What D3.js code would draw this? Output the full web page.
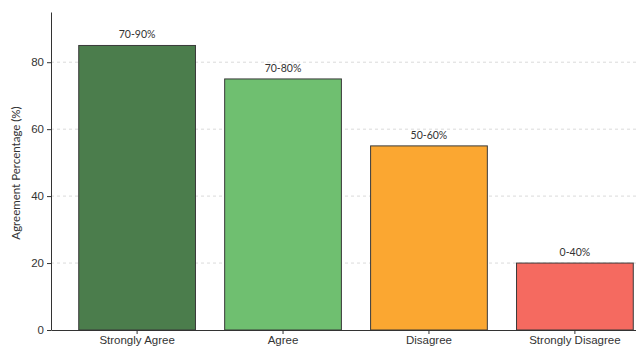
<!DOCTYPE html>
<html>
<head>
<meta charset="utf-8">
<script src="https://cdn.jsdelivr.net/npm/d3@7"></script>
<style>
  body { margin: 0; background: #fff; }
  svg { font-family: Lato, "Open Sans", sans-serif; }
  .grid line { stroke: #d0d0d0; stroke-dasharray: 3,3; stroke-width: 0.8; }
  .axis text { fill: #333; font-size: 11.5px; }
  .axis path, .axis line { stroke: #333; }
  .value { fill: #333; font-size: 10.5px; text-anchor: middle; }
</style>
</head>
<body>
<svg id="chart" width="636" height="347"></svg>
<script>
// chart data
const categories = ["Strongly Agree", "Agree", "Disagree", "Strongly Disagree"];
const values = [85, 75, 55, 20];
const rangeLabels = ["70-90%", "70-80%", "50-60%", "0-40%"];
const colors = ["#4b7d4c", "#6fbf70", "#fba731", "#f56a60"];
const yTicks = [0, 20, 40, 60, 80];

const margin = {top: 12, left: 51, bottom: 17};
const svg = d3.select("#chart");
const height = 347 - margin.top - margin.bottom;
// plot area runs past the right edge of the picture (cropped)
const plotWidth = 610;

const chart = svg.append("g")
    .attr("transform", "translate(" + margin.left + "," + margin.top + ")");

const x = d3.scaleBand().domain(categories).range([0, plotWidth])
    .paddingInner(0.2).paddingOuter(0.19);
const y = d3.scaleLinear().domain([0, 95]).range([height, 0]);

chart.append("g").attr("class", "grid")
    .selectAll("line").data(yTicks.filter(d => d > 0)).enter()
    .append("line")
        .attr("x1", 0).attr("x2", plotWidth)
        .attr("y1", d => y(d)).attr("y2", d => y(d));

chart.selectAll("rect.bar").data(categories).enter()
    .append("rect")
        .attr("class", "bar")
        .attr("x", d => x(d))
        .attr("width", x.bandwidth())
        .attr("y", (d, i) => y(values[i]))
        .attr("height", (d, i) => height - y(values[i]))
        .attr("fill", (d, i) => colors[i])
        .attr("stroke", "#3a3a3a")
        .attr("stroke-width", 1);

chart.selectAll("text.value").data(categories).enter()
    .append("text")
        .attr("class", "value")
        .attr("x", d => x(d) + x.bandwidth() / 2)
        .attr("y", (d, i) => y(values[i]) - 7)
        .text((d, i) => rangeLabels[i]);

chart.append("g").attr("class", "x axis")
    .attr("transform", "translate(0," + height + ")")
    .call(d3.axisBottom(x).tickSize(4).tickSizeOuter(0).tickPadding(2));

chart.append("g").attr("class", "y axis")
    .call(d3.axisLeft(y).tickValues(yTicks).tickSize(4).tickSizeOuter(0));

chart.append("text")
    .attr("class", "axis-title")
    .attr("transform", "translate(" + (16 - margin.left) + "," + (height / 2 + 2) + ") rotate(-90)")
    .attr("text-anchor", "middle")
    .attr("dy", "0.35em")
    .attr("font-size", "11.5px")
    .attr("fill", "#333")
    .text("Agreement Percentage (%)");
</script>
</body>
</html>
